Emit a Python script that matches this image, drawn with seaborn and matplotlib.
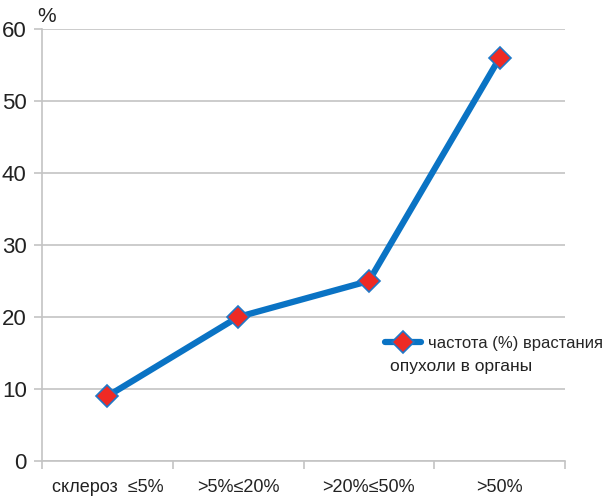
import numpy as np
import pandas as pd
import matplotlib
matplotlib.use("Agg")
import matplotlib.pyplot as plt
import seaborn as sns
from matplotlib.ticker import FixedLocator

# data
categories = ["склероз  ≤5%", ">5%≤20%", ">20%≤50%", ">50%"]
values = [9, 20, 25, 56]
series_name = "частота (%) врастания"
series_name_2 = "опухоли в органы"
y_ticks = [0, 10, 20, 30, 40, 50, 60]

df = pd.DataFrame({"cat": categories, "val": values})

sns.set_style("white")
plt.rcParams["font.family"] = ["Liberation Sans", "DejaVu Sans"]

fig = plt.figure(figsize=(6.05, 4.98), dpi=100)
ax = fig.add_axes([0.0694, 0.0743, 0.8646, 0.8675])

sns.lineplot(data=df, x="cat", y="val", ax=ax, sort=False,
             color="#0A73C4", linewidth=4.5, marker="D", markersize=11,
             markerfacecolor="#EE2A24", markeredgecolor="#1F78C8",
             markeredgewidth=1.2, label=series_name)

ax.set_xlim(-0.5, len(categories) - 0.5)
ax.set_ylim(0, 60)
ax.set_yticks(y_ticks)
ax.yaxis.grid(True, color="#C4C4C4", linewidth=1.2)
ax.set_axisbelow(True)

ax.xaxis.set_minor_locator(FixedLocator(np.arange(-0.5, len(categories), 1.0)))
ax.tick_params(axis="x", which="major", length=0, pad=13, labelsize=13, colors="#222222")
ax.tick_params(axis="x", which="minor", length=6, width=1.2, color="#C4C4C4", direction="out")
ax.tick_params(axis="y", length=6, width=1.2, color="#C4C4C4", direction="out",
               labelsize=16, pad=5, colors="#222222")
ax.xaxis.set_tick_params(bottom=True, which="both")
ax.yaxis.set_tick_params(left=True)

for side in ["top", "right"]:
    ax.spines[side].set_visible(False)
for side in ["left", "bottom"]:
    ax.spines[side].set_color("#C4C4C4")
    ax.spines[side].set_linewidth(1.2)

ax.set_xlabel("")
ax.set_ylabel("")
fig.text(0.062, 0.955, "%", fontsize=15, color="#222222")

ax.legend(loc="center left", bbox_to_anchor=(0.655, 0.273), frameon=False,
          fontsize=12, handlelength=2.2, handletextpad=0.4,
          borderaxespad=0, borderpad=0)
# second line of the legend label, under the first
ax.text(0.666, 0.2176, series_name_2, transform=ax.transAxes, fontsize=12.5,
        va="center", ha="left", color="#222222")

fig.savefig("out.png", dpi=100)
